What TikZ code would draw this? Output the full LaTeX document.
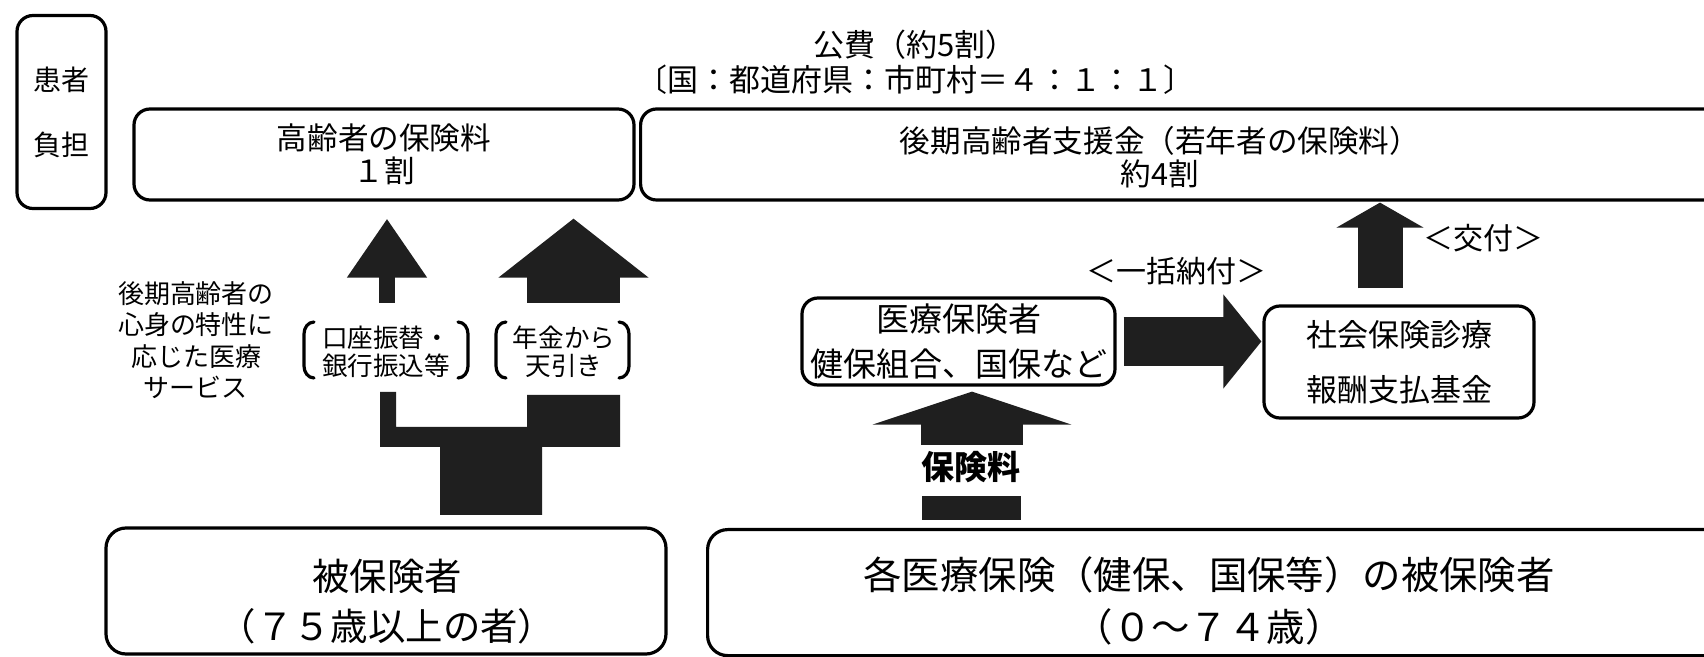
\documentclass[tikz,border=0pt]{standalone}
\usepackage{fontspec}
\setmainfont{Noto Sans CJK JP}
\usetikzlibrary{arrows.meta}
\begin{document}
\begin{tikzpicture}[x=0.5pt,y=-0.5pt,
  box/.style={draw=black,line width=1.6pt,rounded corners=8pt,inner sep=0pt,align=center},
  lbl/.style={inner sep=0pt,align=center},
  blk/.style={black!88},
  brk/.style={line width=1.6pt,line cap=round}]
\path[use as bounding box] (0,0) rectangle (1704,657);
\fill[white] (0,0) rectangle (1704,657);
\begin{scope}
\clip (0,0) rectangle (1704,657);
% top row
\node[box,minimum width=44.5pt,minimum height=96.5pt,font=\fontsize{14}{32.5}\selectfont] (patient) at (61.5,112) {患者\\負担};
\node[lbl,font=\fontsize{15.5}{17.5}\selectfont] (kohi) at (915,62) {公費（約5割）\\〔国：都道府県：市町村＝４：１：１〕};
\node[box,minimum width=250pt,minimum height=45.5pt,font=\fontsize{15.3}{16.5}\selectfont] (boxA) at (384,154.5) {高齢者の保険料\\１割};
\node[box,minimum width=560pt,minimum height=45.5pt,anchor=west] (boxB) at (639,154.5) {};
\node[lbl,font=\fontsize{15.3}{16.5}\selectfont] (tB) at (1160,157) {後期高齢者支援金（若年者の保険料）\\約4割};
% left middle
\node[lbl,font=\fontsize{13}{15.75}\selectfont] (svc) at (196,340) {後期高齢者の\\心身の特性に\\応じた医療\\サービス};
\node[lbl,font=\fontsize{12.8}{13.8}\selectfont] (koza) at (386,352) {口座振替・\\銀行振込等};
\node[lbl,font=\fontsize{12.8}{13.8}\selectfont] (nenkin) at (564,352) {年金から\\天引き};
\draw[brk] (314,322) to[out=180,in=90] (304,334) -- (304,366) to[out=-90,in=180] (314,378);
\draw[brk] (458,322) to[out=0,in=90] (468,334) -- (468,366) to[out=-90,in=0] (458,378);
\draw[brk] (506,322) to[out=180,in=90] (496,334) -- (496,366) to[out=-90,in=180] (506,378);
\draw[brk] (619,322) to[out=0,in=90] (629,334) -- (629,366) to[out=-90,in=0] (619,378);
\coordinate (t1s) at (387,303);
\coordinate (t2s) at (573.5,303);
\draw[blk,line width=8pt,shorten >=8.5pt,-{Triangle[width=38pt,length=29.5pt]}] (t1s) -- (t1s |- boxA.south);
\draw[blk,line width=46.5pt,shorten >=8.5pt,-{Triangle[width=73.5pt,length=29.5pt]}] (t2s) -- (t2s |- boxA.south);
\fill[blk] (380,392) -- (396,392) -- (396,427) -- (527,427) -- (527,395) -- (620,395) -- (620,447) -- (542,447) -- (542,515) -- (440,515) -- (440,447) -- (380,447) -- cycle;
% right middle
\node[box,minimum width=156.5pt,minimum height=43.5pt,font=\fontsize{16.5}{22.5}\selectfont] (iryo) at (958.5,341.5) {医療保険者\\健保組合、国保など};
\node[box,minimum width=135pt,minimum height=56pt,font=\fontsize{15.5}{27.5}\selectfont] (kikin) at (1399,362) {社会保険診療\\報酬支払基金};
\node[lbl,font=\fontsize{15}{18}\selectfont] (ikkatsu) at (1176,271) {＜一括納付＞};
\node[lbl,font=\fontsize{15}{18}\selectfont] (kofu) at (1483,238) {＜交付＞};
\draw[blk,line width=24.5pt,shorten <=3.5pt,shorten >=0.5pt,-{Triangle[width=46pt,length=19pt]}] (iryo.east) -- (iryo.east -| kikin.west);
\draw[blk,line width=22.5pt,shorten <=8pt,shorten >=0.5pt,-{Triangle[width=43pt,length=12.5pt]}] ([xshift=-9.5pt]kikin.north) -- ([xshift=-9.5pt]kikin.north |- boxB.south);
\node[lbl,font=\fontsize{16.5}{18}\selectfont\bfseries] (hokenlbl) at (971,467) {保険料};
\coordinate (hs) at (972,445);
\draw[blk,line width=51pt,shorten >=2.5pt,-{Triangle[width=99pt,length=16.5pt]}] (hs) -- (hs |- iryo.south);
\fill[blk] (922,496) rectangle (1021,520);
% bottom row
\node[box,rounded corners=10pt,minimum width=280pt,minimum height=63pt] (hiho) at (386,591) {};
\node[lbl,font=\fontsize{18.7}{25}\selectfont] (thiho) at (387,602) {被保険者\\（７５歳以上の者）};
\node[box,rounded corners=10pt,minimum width=527pt,minimum height=63pt,anchor=north west] (kaku) at (706,528) {};
\node[lbl,font=\fontsize{19.2}{26}\selectfont] (tkaku) at (1209,601) {各医療保険（健保、国保等）の被保険者\\（０～７４歳）};
\end{scope}
\end{tikzpicture}
\end{document}
